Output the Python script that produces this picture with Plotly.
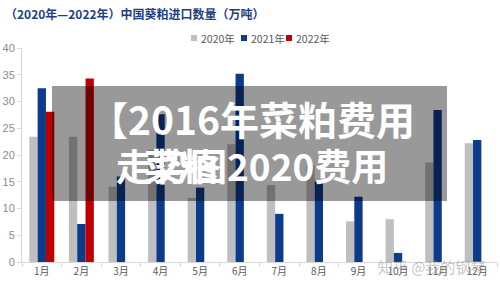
import plotly.graph_objects as go

months = ["1月", "2月", "3月", "4月", "5月", "6月", "7月", "8月", "9月", "10月", "11月", "12月"]
y2020 = [23.4, 23.4, 14.1, 21.0, 12.0, 22.0, 14.4, 18.1, 7.6, 8.0, 18.6, 22.2]
y2021 = [32.5, 7.1, 16.0, 27.6, 13.9, 35.2, 9.0, 15.2, 12.2, 1.7, 28.4, 22.8]
y2022 = [28.1, 34.3, None, None, None, None, None, None, None, None, None, None]
series_names = ["2020年", "2021年", "2022年"]
colors = ["#bfbfbf", "#0d3a8a", "#c00000"]

W, H = 500, 287
L, R, T, B = 22, 3, 48, 25
PW, PH = W - L - R, H - T - B


def px(xp):
    return (xp - L) / PW


def py(yp):
    return (H - B - yp) / PH


fig = go.Figure()
for name, vals, c in zip(series_names, [y2020, y2021, y2022], colors):
    fig.add_trace(go.Bar(x=months, y=vals, name=name, marker_color=c,
                         marker_line_width=0, showlegend=False))

shapes = []
annotations = []

# overlay box
shapes.append(dict(type="rect", xref="paper", yref="paper", x0=px(52), x1=px(447),
                   y0=py(201), y1=py(86), fillcolor="rgba(0,0,0,0.4)",
                   line_width=0, layer="above"))

# manual legend
leg_x = [191, 241, 286]
for name, c, lx in zip(series_names, colors, leg_x):
    shapes.append(dict(type="rect", xref="paper", yref="paper", x0=px(lx), x1=px(lx + 6),
                       y0=py(41), y1=py(35), fillcolor=c, line_width=0))
    annotations.append(dict(text=name, xref="paper", yref="paper", x=px(lx + 7.5), y=py(38.5),
                            xanchor="left", yanchor="middle", showarrow=False,
                            font=dict(size=10.5, color="#595959", family="Noto Sans CJK SC")))

# title
annotations.append(dict(text="<b>（2020年—2022年）中国葵粕进口数量（万吨）</b>", xref="paper", yref="paper",
                        x=px(3), y=py(13), xanchor="left", yanchor="middle", showarrow=False,
                        font=dict(size=12, color="#1f3f80", family="Noto Sans CJK SC")))

# overlay text
annotations.append(dict(text="<b>【2016年菜粕费用</b>", xref="paper", yref="paper",
                        x=px(252), y=py(118), xanchor="center", yanchor="middle", showarrow=False,
                        font=dict(size=39, color="white", family="Noto Sans CJK SC")))
annotations.append(dict(text="<b>走势图2020费用</b>", xref="paper", yref="paper",
                        x=px(114), y=py(165), xanchor="left", yanchor="middle", showarrow=False,
                        font=dict(size=37, color="white", family="Noto Sans CJK SC")))
annotations.append(dict(text="<b>菜粕</b>", xref="paper", yref="paper",
                        x=px(142), y=py(165), xanchor="left", yanchor="middle", showarrow=False,
                        font=dict(size=37, color="white", family="Noto Sans CJK SC")))

# watermark
annotations.append(dict(text="知乎 @我的钢琴", xref="paper", yref="paper",
                        x=px(376), y=py(266), xanchor="left", yanchor="middle", showarrow=False,
                        font=dict(size=15, color="rgba(150,150,150,0.55)", family="Noto Sans CJK SC")))

fig.update_layout(
    width=W, height=H,
    margin=dict(l=L, r=R, t=T, b=B, pad=0),
    paper_bgcolor="white", plot_bgcolor="white",
    barmode="group", bargap=0.37, bargroupgap=0,
    shapes=shapes, annotations=annotations,
    showlegend=False,
    xaxis=dict(showline=True, linecolor="#d9d9d9", linewidth=1, ticks="outside",
               tickson="boundaries", ticklen=4, tickcolor="#d9d9d9", showgrid=False,
               tickfont=dict(size=10, color="#595959", family="Noto Sans CJK SC")),
    yaxis=dict(range=[0, 40], dtick=5, showline=True, linecolor="#d9d9d9", linewidth=1,
               ticks="outside", ticklen=4, tickcolor="#d9d9d9", showgrid=False, zeroline=False,
               tickfont=dict(size=11, color="#8c8c8c", family="Liberation Sans")),
)

fig.write_html("out.html")
